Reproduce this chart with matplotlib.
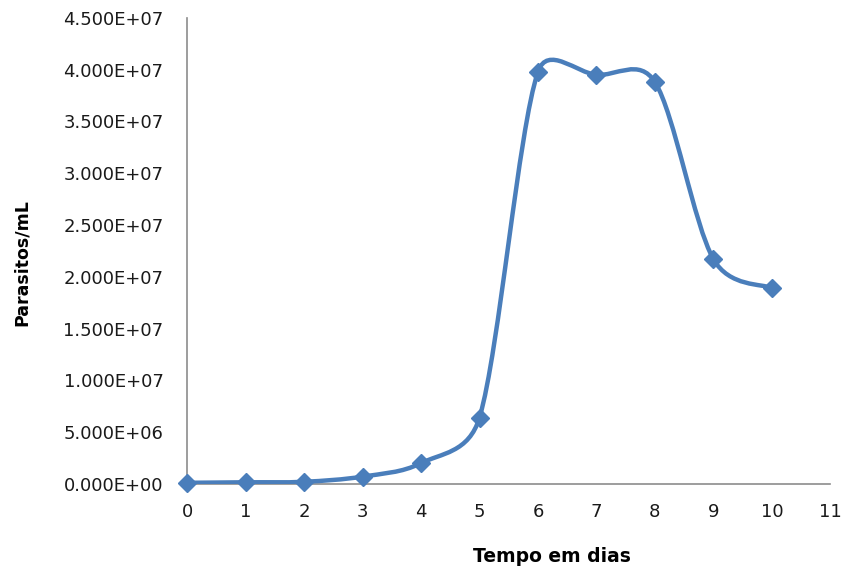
import matplotlib
matplotlib.use("Agg")
from matplotlib import pyplot as plt
from matplotlib.path import Path
import matplotlib.patches as mpatches
from matplotlib.ticker import FormatStrFormatter, MultipleLocator
import numpy as np

# Data
dias = [0, 1, 2, 3, 4, 5, 6, 7, 8, 9, 10]
parasitos = [1.0e5, 1.5e5, 2.0e5, 7.0e5, 2.0e6, 6.4e6,
             3.98e7, 3.95e7, 3.88e7, 2.17e7, 1.89e7]

blue = "#4A7EBB"

fig = plt.figure(figsize=(8.43, 5.76), dpi=100)
ax = fig.add_axes([0.222, 0.160, 0.763, 0.809])
ax.set_xlim(0, 11)
ax.set_ylim(0, 4.5e7)

# Excel-like smoothed line: Catmull-Rom Bezier handles (1/6 of the
# neighbour chord), capped at half the segment length on screen
pts = ax.transData.transform(np.column_stack([dias, parasitos]))
n = len(pts)
verts = [pts[0]]
codes = [Path.MOVETO]
for i in range(n - 1):
    p0 = pts[i - 1] if i > 0 else pts[i]
    p3 = pts[i + 2] if i + 2 < n else pts[i + 1]
    p1, p2 = pts[i], pts[i + 1]
    d12 = np.hypot(*(p2 - p1))
    h1 = (p2 - p0) / 6
    h2 = (p3 - p1) / 6
    for h in (h1, h2):
        L = np.hypot(*h)
        if L > d12 / 2:
            h *= d12 / 2 / L
    verts += [p1 + h1, p2 - h2, p2]
    codes += [Path.CURVE4] * 3
verts = ax.transData.inverted().transform(np.array(verts))
ax.add_patch(mpatches.PathPatch(Path(verts, codes), facecolor="none",
                                edgecolor=blue, linewidth=3.2,
                                capstyle="round", zorder=3))
ax.plot(dias, parasitos, linestyle="none", marker="D", markersize=9,
        color=blue, zorder=4, clip_on=False)

ax.xaxis.set_major_locator(MultipleLocator(1))
ax.yaxis.set_major_locator(MultipleLocator(5e6))
ax.yaxis.set_major_formatter(FormatStrFormatter("%.3E"))

for side in ["top", "right"]:
    ax.spines[side].set_visible(False)
for side in ["left", "bottom"]:
    ax.spines[side].set_color("#8C8C8C")
    ax.spines[side].set_linewidth(1.2)

ax.tick_params(axis="both", length=0, labelsize=13, colors="#1a1a1a")
ax.tick_params(axis="y", pad=17)
ax.tick_params(axis="x", pad=14)

fig.text(0.026, 0.545, "Parasitos/mL", rotation=90, ha="center", va="center",
         fontsize=12.5, fontweight="bold")
fig.text(0.655, 0.017, "Tempo em dias", ha="center", va="bottom",
         fontsize=13.5, fontweight="bold")

fig.savefig("out.png", dpi=100)
